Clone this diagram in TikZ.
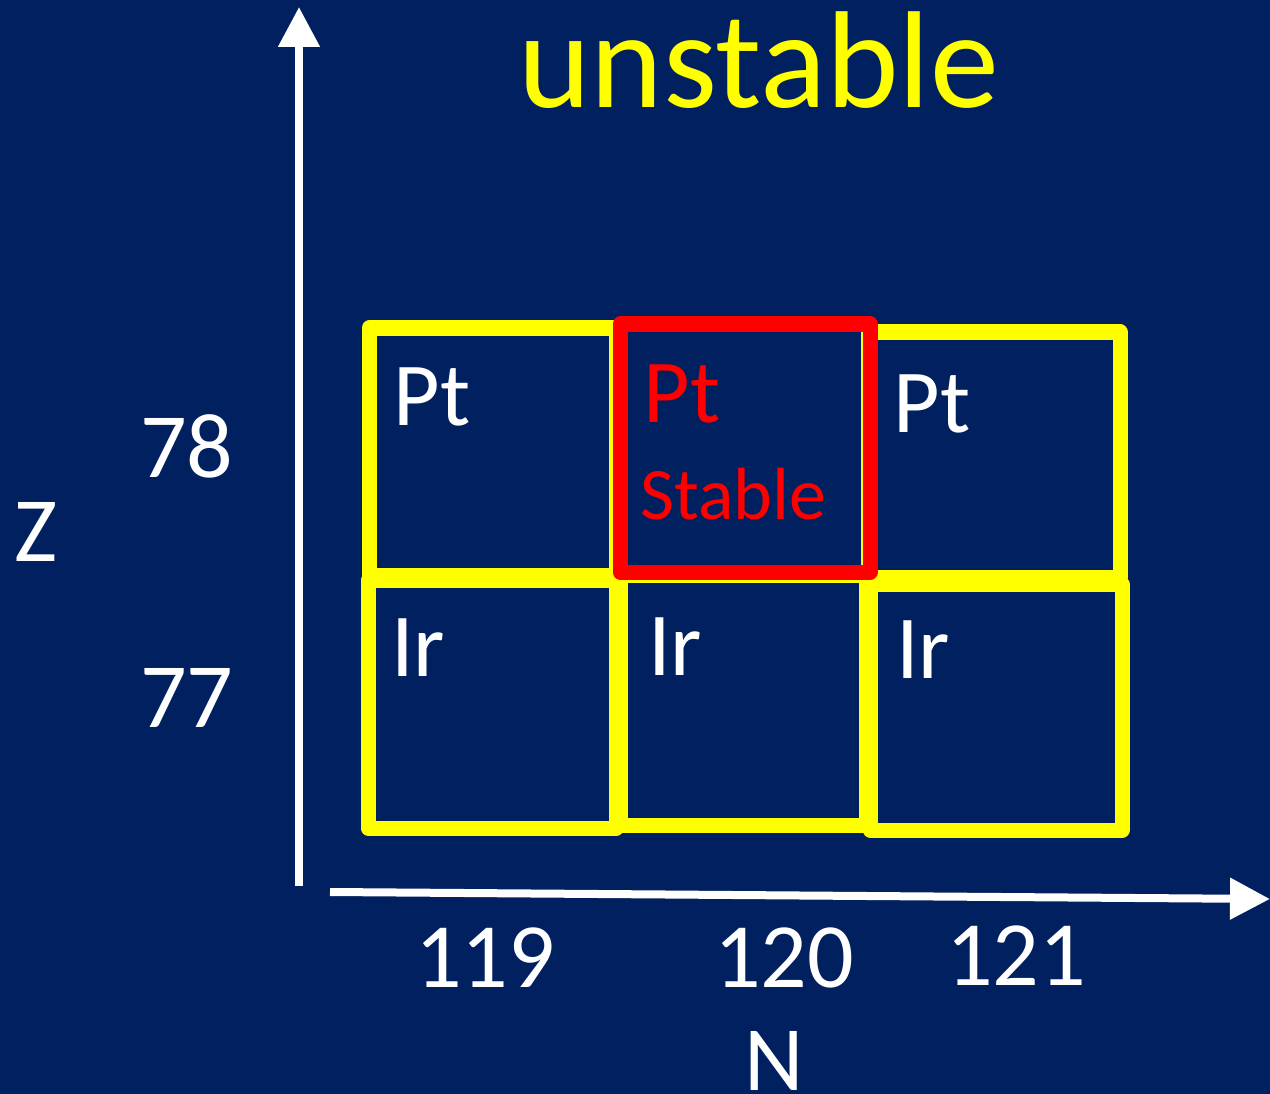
\documentclass[tikz,border=0pt]{standalone}
\usepackage{fontspec}
\setmainfont{Carlito}
\usetikzlibrary{arrows.meta}
\definecolor{bgblue}{HTML}{002060}
\definecolor{yel}{HTML}{FFFF00}
\definecolor{rd}{HTML}{FF0000}
\begin{document}
\begin{tikzpicture}[x=1pt,y=-1pt,
  ybox/.style={draw=yel,line width=15pt,line join=round,inner sep=0pt,rectangle},
  rbox/.style={draw=rd,line width=15pt,line join=round,inner sep=0pt,rectangle},
  axis/.style={draw=white,line width=8pt,-{Triangle[length=40pt,width=40pt]}},
  lbl/.style={text=white,anchor=base west,inner sep=0pt,font=\fontsize{92}{96}\selectfont},
  cell/.style={anchor=base west,inner sep=0pt,font=\fontsize{90}{94}\selectfont}]
\fill[bgblue] (0,0) rectangle (1270,1094);
\useasboundingbox (0,0) rectangle (1270,1094);
% boxes
\node[ybox,minimum width=247pt,minimum height=247pt] (b1) at (492.5,451.5) {};
\node[ybox,minimum width=252pt,minimum height=245pt] (b3) at (994,454.5) {};
\node[ybox,minimum width=248pt,minimum height=248pt] (b4) at (492,704) {};
\node[ybox,minimum width=246pt,minimum height=250pt] (b5) at (743,700) {};
\node[ybox,minimum width=252pt,minimum height=246pt] (b6) at (996,707) {};
\node[rbox,minimum width=250pt,minimum height=248pt] (b2) at (745,448) {};
% cell texts
\node[cell,text=white] (t1) at (393,425) {Pt};
\node[cell,text=rd] (t2) at (643,422) {Pt};
\node[cell,text=rd,font=\fontsize{74}{78}\selectfont] (t2s) at (640,519) {Stable};
\node[cell,text=white] (t3) at (893,432) {Pt};
\node[cell,text=white] (t4) at (391,676) {Ir};
\node[cell,text=white] (t5) at (648,675) {Ir};
\node[cell,text=white] (t6) at (896,678) {Ir};
% axes
\coordinate (yb) at (299,886);
\coordinate (yt) at (299,7);
\coordinate (xl) at (330,892);
\coordinate (xr) at (1270,899);
\draw[axis] (yb) -- (yt);
\draw[axis] (xl) -- (xr);
% labels
\node[lbl] (z78) at (140,477) {78};
\node[lbl] (z77) at (140,727) {77};
\node[lbl] (zl) at (14,561) {Z};
\node[lbl] (n119) at (415,987) {119};
\node[lbl] (n120) at (714,987) {120};
\node[lbl] (n121) at (946,985) {121};
\node[lbl] (nl) at (744,1090) {N};
\node[anchor=base west,inner sep=0pt,text=yel,font=\fontsize{138}{140}\selectfont] (title) at (518,108) {unstable};
\end{tikzpicture}
\end{document}
